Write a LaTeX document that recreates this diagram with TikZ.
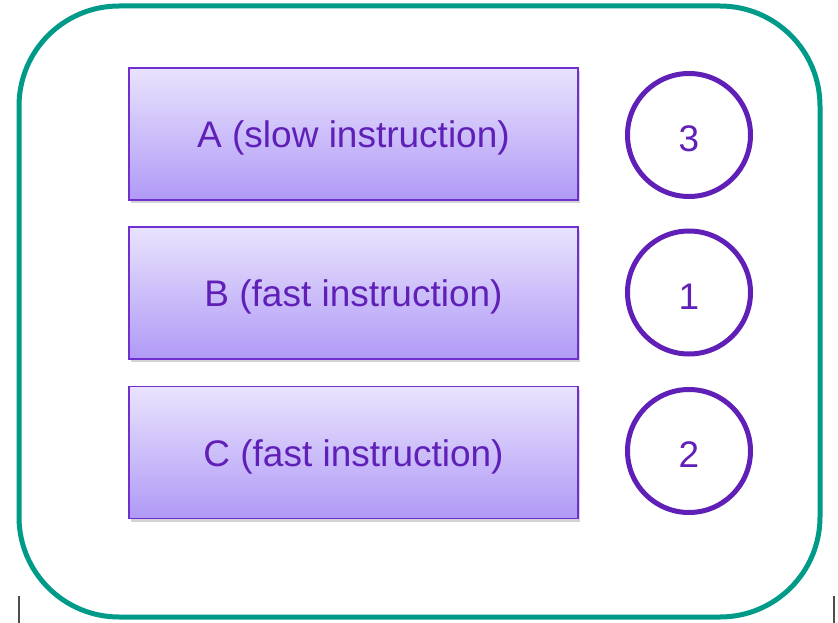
\documentclass[tikz,border=0pt]{standalone}
\usepackage{fontspec}
\setmainfont{Liberation Sans}
\usetikzlibrary{shadows}

\definecolor{frameteal}{RGB}{0,154,136}
\definecolor{instrpurple}{RGB}{96,32,184}
\definecolor{boxborder}{RGB}{112,48,208}
\definecolor{boxtop}{RGB}{233,227,253}
\definecolor{boxbottom}{RGB}{176,154,246}

\begin{document}
\begin{tikzpicture}[x=1pt,y=-1pt,
  instr/.style={draw=boxborder, line width=1.6pt, top color=boxtop, bottom color=boxbottom,
    minimum width=449pt, minimum height=132pt, text=instrpurple, font=\fontsize{37}{44}\selectfont,
    text height=27.5pt, text depth=0pt,
    drop shadow={shadow xshift=2pt, shadow yshift=-3pt, opacity=0.35}},
  order/.style={circle, draw=instrpurple, line width=5pt, minimum size=123pt, inner sep=0pt,
    text=instrpurple, font=\fontsize{37}{44}\selectfont, text height=33pt, text depth=0pt}]

  \useasboundingbox (0,0) rectangle (838,623);

% outer frame
  \draw[frameteal, line width=5pt, rounded corners=100pt] (19,6) rectangle (820,617);

% small marks below the frame
  \draw[black!70, line width=1.2pt] (19,596) -- (19,623);
  \draw[black!70, line width=1.2pt] (834,596) -- (834,623);

% instructions
  \node[instr] (instA) at (353.5,134)   {A (slow instruction)};
  \node[instr] (instB) at (353.5,293)   {B (fast instruction)};
  \node[instr] (instC) at (353.5,452.5) {C (fast instruction)};

% completion order
  \node[order] (ordA) at (689,135)   {3};
  \node[order] (ordB) at (689,292.5) {1};
  \node[order] (ordC) at (689,451)   {2};

\end{tikzpicture}
\end{document}
